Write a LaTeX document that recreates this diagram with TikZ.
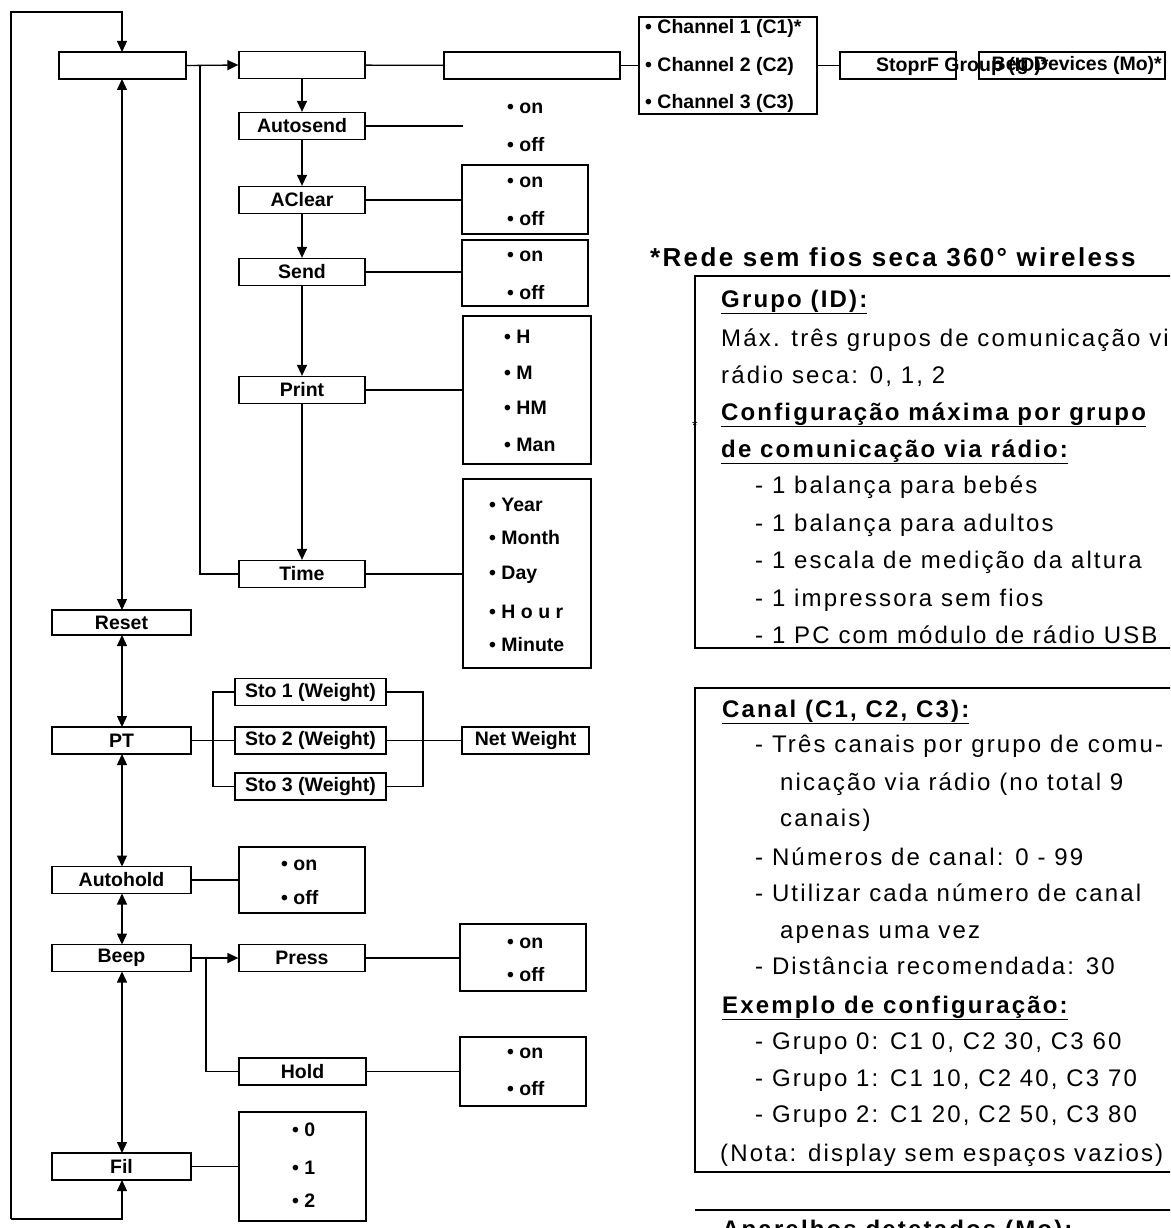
\documentclass[tikz,border=0pt]{standalone}
\usepackage{fontspec}
\setmainfont{Liberation Sans}
\newfontfamily\panelfont{Liberation Sans}[LetterSpace=9]
\usetikzlibrary{arrows.meta}
\tikzset{
 bx/.style={draw,line width=1.3pt,minimum height=27pt,inner sep=0pt,font=\bfseries\fontsize{19.5}{22}\selectfont},
 opt/.style={draw,line width=1.3pt,inner sep=0pt},
 ot/.style={anchor=west,inner sep=0pt,font=\bfseries\fontsize{19.5}{22}\selectfont},
 ln/.style={line width=1.3pt},
 ar/.style={line width=1.3pt,-{Triangle[length=11pt,width=10pt]}},
 dar/.style={line width=1.3pt,{Triangle[length=11pt,width=10pt]}-{Triangle[length=11pt,width=10pt]}},
 tx/.style={anchor=base west,inner sep=0pt,font=\panelfont\fontsize{24}{27}\selectfont},
 hd/.style={anchor=base west,inner sep=0pt,font=\panelfont\bfseries\fontsize{24}{27}\selectfont},
}
\begin{document}
\begin{tikzpicture}[x=1pt,y=-1pt]
\useasboundingbox (0,0) rectangle (1170,1228);
\clip (0,0) rectangle (1170,1228);
% left column
\node[bx,minimum width=127pt] (m1) at (122.5,65.5) {};
\node[bx,minimum width=139pt,minimum height=25pt] (reset) at (121.5,622.5) {Reset};
\node[bx,minimum width=139pt] (pt) at (121.5,740.5) {PT};
\node[bx,minimum width=139pt] (ah) at (121.5,880) {Autohold};
\node[bx,minimum width=139pt] (beep) at (121.5,958) {Beep};
\node[bx,minimum width=139pt] (fil) at (121.5,1166.5) {Fil};
\coordinate (lt) at (11,12); \coordinate (lb) at (11,1219);
\draw[ar] (lb) -- (lt) -| (122,52);
\draw[ar] (lb) -| (122,1180);
\draw[dar] (122,79) -- (122,610);
\draw[dar] (122,635) -- (122,727);
\draw[dar] (122,754) -- (122,866.5);
\draw[dar] (122,893.5) -- (122,944.5);
\draw[dar] (122,971.5) -- (122,1153);
% second column
\node[bx,minimum width=126pt] (m2) at (302,65) {};
\node[bx,minimum width=176pt] (m3) at (532,65.5) {};
\draw[ar] (m1.east) -- (m2.west);
\node[bx,minimum width=126pt] (as) at (302,126) {Autosend};
\node[bx,minimum width=126pt] (ac) at (302,200) {AClear};
\node[bx,minimum width=126pt] (sd) at (302,272) {Send};
\node[bx,minimum width=126pt] (pr) at (302,390) {Print};
\node[bx,minimum width=126pt] (tm) at (302,574) {Time};
\draw[ar] (m2) -- (as); \draw[ar] (as) -- (ac); \draw[ar] (ac) -- (sd);
\draw[ar] (sd) -- (pr); \draw[ar] (pr) -- (tm);
\draw[ln] (200,65.5) |- (tm.west);
\draw[ln] (m2) -- (m3);
% channel box
\node[opt,minimum width=178pt,minimum height=97pt] (ch) at (728,65.5) {};
\node[ot] at (645,28) {• Channel 1 (C1)*};
\node[ot] at (645,66) {• Channel 2 (C2)};
\node[ot] at (645,103) {• Channel 3 (C3)};
\draw[ln] (m3) -- (ch);
\node[bx,minimum width=116pt] (st) at (898,65.5) {};
\node[bx,minimum width=186pt] (gd) at (1072,65.5) {};
\draw[ln] (ch) -- (st);
\node[ot] at (876,66) {StoprF Group (ID)*};
\node[ot,anchor=east] at (1162,66) {Beg Devices (Mo)*};
% autosend options
\coordinate (aso) at (463,126);
\draw[ln] (as.east) -- (aso);
\node[ot] at (507,108) {• on};
\node[ot] at (507,145) {• off};
% aclear
\node[opt,minimum width=126pt,minimum height=69pt] (aco) at (525,199.5) {};
\draw[ln] (ac) -- (aco.west |- ac);
\node[ot] at (507,182) {• on}; \node[ot] at (507,219) {• off};
\node[opt,minimum width=126pt,minimum height=66pt] (sdo) at (525,273) {};
\draw[ln] (sd) -- (sdo.west |- sd);
\node[ot] at (507,256) {• on}; \node[ot] at (507,293) {• off};
\node[opt,minimum width=128pt,minimum height=148pt] (pro) at (527,390) {};
\draw[ln] (pr) -- (pro.west |- pr);
\node[ot] at (504,337) {• H}; \node[ot] at (504,373) {• M};
\node[ot] at (504,408) {• HM}; \node[ot] at (504,445) {• Man};
\node[opt,minimum width=128pt,minimum height=189pt] (tmo) at (527,573.5) {};
\draw[ln] (tm) -- (tmo.west |- tm);
\node[ot] at (489,505) {• Year}; \node[ot] at (489,538) {• Month};
\node[ot] at (489,575) {• Day}; \node[ot] at (489,612) {• H o u r};
\node[ot] at (489,645) {• Minute};
% PT
\node[bx,minimum width=151pt] (s1) at (310.5,692) {Sto 1 (Weight)};
\node[bx,minimum width=151pt] (s2) at (310.5,740.5) {Sto 2 (Weight)};
\node[bx,minimum width=151pt] (s3) at (310.5,786.5) {Sto 3 (Weight)};
\node[bx,minimum width=127pt] (nw) at (525.5,740.5) {Net Weight};
\draw[ln] (pt) -- (s2);
\draw[ln] (s1.west) -| (213,786.5) -- (s3.west);
\draw[ln] (s1.east) -| (423,786.5) -- (s3.east);
\draw[ln] (s2) -- (nw);
% autohold
\node[opt,minimum width=126pt,minimum height=66pt] (aho) at (302,880) {};
\draw[ln] (ah) -- (aho.west |- ah);
\node[ot] at (281,865) {• on}; \node[ot] at (281,898) {• off};
% beep
\node[bx,minimum width=126pt] (pre) at (302,958) {Press};
\node[bx,minimum width=127pt] (hol) at (302.5,1071.5) {Hold};
\draw[ar] (beep.east) -- (pre.west);
\draw[ln] (206,958) |- (hol.west);
\node[opt,minimum width=126pt,minimum height=67pt] (preo) at (523,957.5) {};
\draw[ln] (pre) -- (preo.west |- pre);
\node[ot] at (507,943) {• on}; \node[ot] at (507,975) {• off};
\node[opt,minimum width=126pt,minimum height=69pt] (holo) at (523,1071.5) {};
\draw[ln] (hol) -- (holo);
\node[ot] at (507,1053) {• on}; \node[ot] at (507,1089) {• off};
% fil
\node[opt,minimum width=127pt,minimum height=109pt] (filo) at (302.5,1166.5) {};
\draw[ln] (fil) -- (filo);
\node[ot] at (292,1130) {• 0}; \node[ot] at (292,1168) {• 1}; \node[ot] at (292,1201) {• 2};
% right text panel
\node[hd,font=\panelfont\bfseries\fontsize{26}{29}\selectfont] at (650,266) {*Rede sem fios seca 360° wireless};
\draw[ln] (695,276) rectangle (1180,648);
\node[hd] at (721,307) {\underline{Grupo (ID):}};
\node[tx] at (721,346) {Máx. três grupos de comunicação via};
\node[tx] at (721,383) {rádio seca: 0, 1, 2};
\node[hd] at (721,420) {\underline{Configuração máxima por grupo}};
\node[hd] at (721,457) {\underline{de comunicação via rádio:}};
\node[tx,font=\fontsize{14}{16}\selectfont] at (692,430) {*};
\node[tx] at (755,493) {- 1 balança para bebés};
\node[tx] at (755,531) {- 1 balança para adultos};
\node[tx] at (755,568) {- 1 escala de medição da altura};
\node[tx] at (755,606) {- 1 impressora sem fios};
\node[tx] at (755,643) {- 1 PC com módulo de rádio USB};
\draw[ln] (695,688) rectangle (1180,1172);
\node[hd] at (722,717) {\underline{Canal (C1, C2, C3):}};
\node[tx] at (755,752) {- Três canais por grupo de comu-};
\node[tx] at (780,790) {nicação via rádio (no total 9};
\node[tx] at (780,826) {canais)};
\node[tx] at (755,865) {- Números de canal: 0 - 99};
\node[tx] at (755,901) {- Utilizar cada número de canal};
\node[tx] at (780,938) {apenas uma vez};
\node[tx] at (755,974) {- Distância recomendada: 30};
\node[hd] at (722,1013) {\underline{Exemplo de configuração:}};
\node[tx] at (755,1049) {- Grupo 0: C1 0, C2 30, C3 60};
\node[tx] at (755,1086) {- Grupo 1: C1 10, C2 40, C3 70};
\node[tx] at (755,1122) {- Grupo 2: C1 20, C2 50, C3 80};
\node[tx] at (720,1161) {(Nota: display sem espaços vazios)};
\draw[ln] (695,1210) -- (1180,1210);
\node[hd] at (722,1237) {\underline{Aparelhos detetados (Mo):}};
\end{tikzpicture}
\end{document}
